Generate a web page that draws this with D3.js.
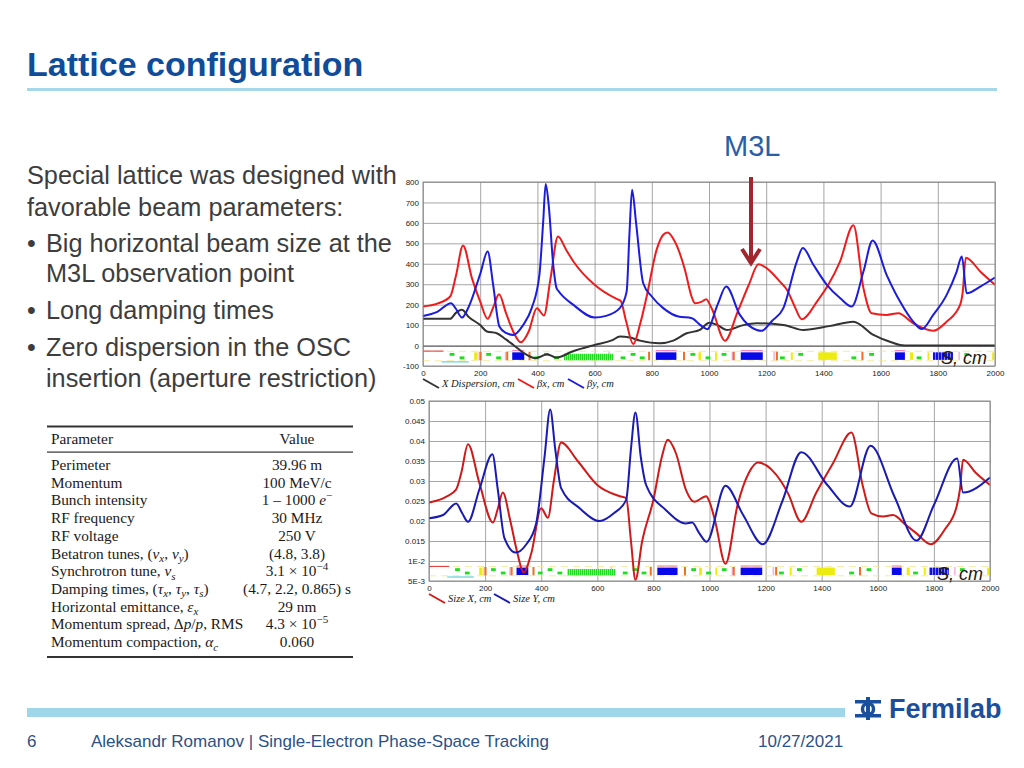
<!DOCTYPE html>
<html>
<head>
<meta charset="utf-8">
<script src="https://cdn.jsdelivr.net/npm/d3@7"></script>
<style>
body { margin: 0; background: #fff; }
svg { display: block; font-family: "Liberation Sans", Arial, sans-serif; }
</style>
</head>
<body>
<svg id="slide" width="1024" height="768"></svg>
<script>
// ---- text content ----
var titleText = "Lattice configuration";
var markLabel = "M3L";
var bodyLines = [
    "Special lattice was designed with",
    "favorable beam parameters:",
    "Big horizontal beam size at the",
    "M3L observation point",
    "Long damping times",
    "Zero dispersion in the OSC",
    "insertion (aperture restriction)"
];
var bodyBullet = [false, false, true, false, true, true, false];
var footerPage = "6";
var footerTitle = "Aleksandr Romanov | Single-Electron Phase-Space Tracking";
var footerDate = "10/27/2021";

// table rows: [text, style] segments
var tableHead = ["Parameter", "Value"];
var paramNames = [
    [["Perimeter"]],
    [["Momentum"]],
    [["Bunch intensity"]],
    [["RF frequency"]],
    [["RF voltage"]],
    [["Betatron tunes, ("], ["\u03bd", "i"], ["x", "sub"], [", "], ["\u03bd", "i"], ["y", "sub"], [")"]],
    [["Synchrotron tune, "], ["\u03bd", "i"], ["s", "sub"]],
    [["Damping times, ("], ["\u03c4", "i"], ["x", "sub"], [", "], ["\u03c4", "i"], ["y", "sub"], [", "], ["\u03c4", "i"], ["s", "sub"], [")"]],
    [["Horizontal emittance, "], ["\u03b5", "i"], ["x", "sub"]],
    [["Momentum spread, \u0394"], ["p", "i"], ["/"], ["p", "i"], [", RMS"]],
    [["Momentum compaction, "], ["\u03b1", "i"], ["c", "sub"]]
];
var paramValues = [
    [["39.96 m"]],
    [["100 MeV/c"]],
    [["1 \u2013 1000 "], ["e", "i"], ["\u2212", "sup"]],
    [["30 MHz"]],
    [["250 V"]],
    [["(4.8, 3.8)"]],
    [["3.1 \u00d7 10"], ["\u22124", "sup"]],
    [["(4.7, 2.2, 0.865) s"]],
    [["29 nm"]],
    [["4.3 \u00d7 10"], ["\u22125", "sup"]],
    [["0.060"]]
];

// ---- chart data (s in cm) ----
var sTicks = [0, 200, 400, 600, 800, 1000, 1200, 1400, 1600, 1800, 2000];
var betaTicks = [-100, 0, 100, 200, 300, 400, 500, 600, 700, 800];
var sizeTicks = [0.005, 0.01, 0.015, 0.02, 0.025, 0.03, 0.035, 0.04, 0.045, 0.05];
var sizeTickLabels = ["5E-3", "1E-2", "0.015", "0.02", "0.025", "0.03", "0.035", "0.04", "0.045", "0.05"];

var betaXS = [0, 50, 95, 115, 140, 171, 200, 226, 245, 266, 290, 315, 342, 370, 398, 423, 445, 472, 500, 526,
    600, 677, 691, 710, 735, 760, 782, 817, 840, 855, 880, 916, 939, 951, 975, 990, 1010, 1056, 1100, 1140,
    1173, 1200, 1248, 1273, 1300, 1324, 1380, 1417, 1458, 1505, 1540, 1569, 1621, 1662, 1714, 1784, 1831, 1878, 1887, 1898,
    1950, 2000];
var betaXV = [191, 205, 240, 340, 490, 330, 215, 131, 185, 251, 160, 70, 16, 70, 183, 147, 320, 534, 470, 411,
    297, 228, 219, 120, 7, 110, 240, 469, 542, 553, 510, 370, 240, 207, 215, 227, 180, 24, 165, 300,
    398, 380, 313, 272, 190, 129, 220, 297, 411, 588, 281, 158, 150, 158, 109, 72, 117, 199, 260, 430,
    360, 297];

var betaYS = [0, 50, 98, 115, 136, 160, 200, 226, 245, 267, 290, 316, 350, 380, 407, 420, 429, 440, 455, 467,
    473, 526, 600, 640, 688, 712, 722, 731, 745, 770, 800, 840, 893, 940, 970, 994, 1030, 1060, 1108, 1167,
    1184, 1220, 1260, 1307, 1328, 1365, 1412, 1460, 1499, 1540, 1572, 1621, 1668, 1714, 1744, 1784, 1831, 1866, 1884, 1901,
    1950, 2000];
var betaYV = [145, 165, 207, 180, 137, 190, 350, 460, 300, 93, 62, 52, 100, 183, 346, 600, 790, 680, 400, 281,
    268, 199, 137, 145, 183, 264, 550, 762, 600, 305, 240, 183, 142, 134, 100, 80, 200, 289, 150, 76,
    72, 120, 183, 411, 477, 395, 297, 230, 191, 362, 514, 346, 215, 117, 81, 150, 248, 362, 436, 256,
    290, 333];

var dispS = [0, 95, 115, 136, 160, 200, 223, 258, 290, 316, 363, 392, 410, 433, 467, 520, 600, 660, 689, 723,
    759, 828, 875, 922, 968, 1001, 1030, 1062, 1120, 1167, 1260, 1330, 1420, 1505, 1575, 1640, 1668, 1700, 2000];
var dispV = [131, 131, 160, 175, 140, 100, 69, 60, 30, 3, -46, -62, -55, -42, -59, -30, 3, 25, 44, 39,
    24, 11, 24, 60, 77, 112, 100, 76, 100, 109, 101, 76, 95, 117, 52, 15, 3, 0, 0];

var sizeXS = [0, 62, 97, 115, 139, 180, 228, 245, 263, 290, 315, 337, 365, 400, 424, 445, 471, 530, 600, 680,
    703, 720, 736, 760, 800, 830, 851, 880, 916, 946, 988, 1000, 1020, 1057, 1100, 1140, 1173, 1256, 1280, 1327,
    1380, 1440, 1506, 1547, 1577, 1619, 1654, 1700, 1738, 1789, 1840, 1881, 1893, 1904, 1950, 2000];
var sizeXV = [0.0246, 0.0261, 0.0279, 0.032, 0.0392, 0.0294, 0.0196, 0.023, 0.0271, 0.02, 0.012, 0.0071, 0.012, 0.0232, 0.0208, 0.03, 0.0396, 0.035, 0.029, 0.0262,
    0.0257, 0.015, 0.0053, 0.015, 0.0253, 0.036, 0.0403, 0.037, 0.0278, 0.0248, 0.0262, 0.0248, 0.02, 0.0093, 0.024, 0.032, 0.0346, 0.0298, 0.0269, 0.0198,
    0.027, 0.0344, 0.0421, 0.0286, 0.0219, 0.0211, 0.0215, 0.019, 0.0169, 0.0142, 0.018, 0.0236, 0.028, 0.0353, 0.032, 0.029];

var sizeYS = [0, 50, 97, 118, 139, 180, 226, 245, 269, 309, 345, 382, 412, 432, 450, 471, 537, 608, 660, 703,
    720, 736, 755, 774, 845, 916, 938, 964, 990, 1057, 1120, 1190, 1260, 1327, 1420, 1500, 1574, 1660, 1738, 1800,
    1883, 1904, 2000];
var sizeYV = [0.0207, 0.0215, 0.0244, 0.022, 0.0198, 0.028, 0.0367, 0.028, 0.0157, 0.0121, 0.014, 0.0194, 0.0361, 0.0479, 0.038, 0.0282, 0.0232, 0.02, 0.022, 0.0253,
    0.038, 0.0471, 0.036, 0.029, 0.0227, 0.0194, 0.0196, 0.0169, 0.0148, 0.0288, 0.0215, 0.0142, 0.025, 0.0372, 0.029, 0.0236, 0.0388, 0.026, 0.0151, 0.024,
    0.0356, 0.0271, 0.0309];

// lattice elements (s in cm)
var quadUp = [93, 221, 423, 726, 935, 1044, 1312, 1560, 1893];
var quadDown = [128, 256, 388, 458, 691, 758, 988, 1248, 1498, 1726];
var dipoles = [[312, 354], [814, 886], [1111, 1188], [1650, 1685]];
var combDipoles = [[1783, 1853]];
var sextupoles = [[179, 191], [963, 973], [1021, 1027], [1286, 1292], [1382, 1447], [1703, 1714], [1764, 1770], [1990, 1997]];
var correctors = [198, 291, 369, 787, 909, 1083, 1234, 1533];
var markers = [194, 286, 648, 1079, 1225, 1872];
var undulator = [[493, 665]];
var entryLine = [[0, 72]];
var cyanLine = [[65, 160]];

function show() {
    'use strict';

    var svg = d3.select("#slide");
    var blueText = "#0f4c9a";

    // ---- header ----
    svg.append("text").attr("x", 27).attr("y", 76)
        .attr("font-size", 34).attr("font-weight", "bold").attr("fill", blueText)
        .text(titleText);
    svg.append("rect").attr("x", 27).attr("y", 88).attr("width", 970).attr("height", 3)
        .attr("fill", "#a7d8e9");

    // ---- left text ----
    var baselines = [184, 216, 252, 282, 319, 356, 387];
    bodyLines.forEach(function (t, i) {
        var indent = (i === 0 || i === 1) ? 27 : 46;
        if (bodyBullet[i]) {
            svg.append("text").attr("x", 27).attr("y", baselines[i])
                .attr("font-size", 25).attr("fill", "#3d3d3d").text("\u2022");
        }
        svg.append("text").attr("x", indent).attr("y", baselines[i])
            .attr("font-size", 25.3).attr("fill", "#3d3d3d").text(t);
    });

    // ---- table ----
    var tbl = svg.append("g").attr("font-family", "'Liberation Serif', 'Times New Roman', serif")
        .attr("font-size", 15.3).attr("fill", "#1a1a1a");
    tbl.append("rect").attr("x", 47).attr("y", 425.5).attr("width", 306).attr("height", 2).attr("fill", "#333");
    tbl.append("rect").attr("x", 47).attr("y", 451.5).attr("width", 306).attr("height", 1.2).attr("fill", "#333");
    tbl.append("rect").attr("x", 47).attr("y", 656).attr("width", 306).attr("height", 2).attr("fill", "#333");
    tbl.append("text").attr("x", 51).attr("y", 444).text(tableHead[0]);
    tbl.append("text").attr("x", 297).attr("y", 444).attr("text-anchor", "middle").text(tableHead[1]);

    function richText(sel, segs) {
        var shift = 0;
        segs.forEach(function (seg) {
            var style = seg[1] || "";
            var ts = sel.append("tspan").text(seg[0]);
            var target = 0;
            if (style === "sub") { target = 3.5; ts.attr("font-size", 11).attr("font-style", "italic"); }
            if (style === "sup") { target = -6; ts.attr("font-size", 11); }
            if (style === "i") { ts.attr("font-style", "italic"); }
            if (target !== shift) { ts.attr("dy", target - shift); shift = target; }
        });
    }
    var rowY = d3.scaleLinear().domain([0, 10]).range([470, 647]);
    paramNames.forEach(function (segs, i) {
        richText(tbl.append("text").attr("x", 51).attr("y", rowY(i)), segs);
    });
    paramValues.forEach(function (segs, i) {
        richText(tbl.append("text").attr("x", 297).attr("y", rowY(i)).attr("text-anchor", "middle"), segs);
    });

    // ---- charts ----
    function drawChart(cfg) {
        var g = svg.append("g");
        var x = cfg.x, y = cfg.y;
        var x0 = x.range()[0], x1 = x.range()[1];
        var yb = y.range()[0], yt = y.range()[1];

        g.append("rect").attr("x", x0).attr("y", yt).attr("width", x1 - x0).attr("height", yb - yt)
            .attr("fill", "#fff");

        // grid
        g.append("g").attr("transform", "translate(0," + yb + ")")
            .call(d3.axisBottom(x).tickValues(sTicks).tickSize(-(yb - yt)).tickFormat(""))
            .call(function (a) { a.select(".domain").remove(); })
            .selectAll("line").attr("stroke", "#8f8f8f").attr("stroke-width", 0.8);
        g.append("g").attr("transform", "translate(" + x0 + ",0)")
            .call(d3.axisLeft(y).tickValues(cfg.yTicks).tickSize(-(x1 - x0)).tickFormat(""))
            .call(function (a) { a.select(".domain").remove(); })
            .selectAll("line").attr("stroke", function (d) { return d === cfg.zero ? "#555" : "#8f8f8f"; })
            .attr("stroke-width", function (d) { return d === cfg.zero ? 1.2 : 0.8; });

        drawStrip(g, x, cfg.strip[0], cfg.strip[1]);

        // curves
        var line = d3.line().curve(d3.curveMonotoneX)
            .x(function (d) { return x(d[0]); })
            .y(function (d) { return y(d[1]); });
        cfg.series.forEach(function (s) {
            g.append("path").datum(d3.zip(s.s, s.v))
                .attr("d", line).attr("fill", "none")
                .attr("stroke", s.color).attr("stroke-width", 2).attr("stroke-linejoin", "round");
        });

        g.append("rect").attr("x", x0).attr("y", yt).attr("width", x1 - x0).attr("height", yb - yt)
            .attr("fill", "none").attr("stroke", "#8a8a8a").attr("stroke-width", 1);

        // tick labels
        var yl = g.append("g").attr("transform", "translate(" + (x0 - 2) + ",0)")
            .call(d3.axisLeft(y).tickValues(cfg.yTicks).tickSize(0).tickPadding(2)
                .tickFormat(function (d, i) { return cfg.yLabels ? cfg.yLabels[i] : String(d); }));
        yl.select(".domain").remove();
        yl.selectAll("text").attr("font-size", 8).attr("fill", "#222")
            .attr("font-family", "'Liberation Sans', Arial, sans-serif");
        var xl = g.append("g").attr("transform", "translate(0," + (yb + 2) + ")")
            .call(d3.axisBottom(x).tickValues(sTicks).tickSize(0).tickPadding(2)
                .tickFormat(function (d) { return String(d); }));
        xl.select(".domain").remove();
        xl.selectAll("text").attr("font-size", 8).attr("fill", "#222")
            .attr("font-family", "'Liberation Sans', Arial, sans-serif");

        // axis name
        g.append("text").attr("x", cfg.sLabel[0]).attr("y", cfg.sLabel[1])
            .attr("font-size", 18).attr("font-style", "italic").attr("fill", "#1a1a1a")
            .text("S, cm");

        // legend
        var lx = cfg.legendX;
        cfg.series.forEach(function (s, i) {
            var px = lx[i];
            g.append("line").attr("x1", px).attr("y1", cfg.legendY - 6)
                .attr("x2", px + 16).attr("y2", cfg.legendY + 3)
                .attr("stroke", s.color).attr("stroke-width", 2);
            g.append("text").attr("x", px + 19).attr("y", cfg.legendY + 2)
                .attr("font-family", "'Liberation Serif', 'Times New Roman', serif")
                .attr("font-style", "italic").attr("font-size", 10.5).attr("fill", "#1a1a1a")
                .text(s.name);
        });
    }

    function drawStrip(g, x, top, bottom) {
        var f = function (t) { return top + t * (bottom - top); };
        var strip = g.append("g");
        // dashed outlines
        [0.28, 0.74].forEach(function (t) {
            strip.append("line").attr("x1", x(0)).attr("x2", x(2000)).attr("y1", f(t)).attr("y2", f(t))
                .attr("stroke", "#f2e58a").attr("stroke-width", 0.8).attr("stroke-dasharray", "7,5");
        });
        strip.selectAll(".entry").data(entryLine).enter().append("line")
            .attr("x1", function (d) { return x(d[0]); }).attr("x2", function (d) { return x(d[1]); })
            .attr("y1", f(0.27)).attr("y2", f(0.27)).attr("stroke", "#e03030").attr("stroke-width", 1);
        strip.selectAll(".cyan").data(cyanLine).enter().append("line")
            .attr("x1", function (d) { return x(d[0]); }).attr("x2", function (d) { return x(d[1]); })
            .attr("y1", f(0.8)).attr("y2", f(0.8)).attr("stroke", "#40c8d8").attr("stroke-width", 1);
        strip.selectAll(".dipline").data(dipoles).enter().append("line")
            .attr("x1", function (d) { return x(d[0]); }).attr("x2", function (d) { return x(d[1]); })
            .attr("y1", f(0.25)).attr("y2", f(0.25)).attr("stroke", "#f070a0").attr("stroke-width", 1);

        strip.selectAll(".marker").data(markers).enter().append("rect")
            .attr("x", function (d) { return x(d); }).attr("width", 1.5)
            .attr("y", f(0.3)).attr("height", f(0.72) - f(0.3)).attr("fill", "#f7b0e0");
        strip.selectAll(".und").data(undulator).enter().append("rect")
            .attr("x", function (d) { return x(d[0]); })
            .attr("width", function (d) { return x(d[1]) - x(d[0]); })
            .attr("y", f(0.4)).attr("height", f(0.72) - f(0.4)).attr("fill", "url(#undPattern)");
        strip.selectAll(".comb").data(combDipoles).enter().append("rect")
            .attr("x", function (d) { return x(d[0]); })
            .attr("width", function (d) { return x(d[1]) - x(d[0]); })
            .attr("y", f(0.33)).attr("height", f(0.7) - f(0.33)).attr("fill", "url(#combPattern)");
        strip.selectAll(".dip").data(dipoles).enter().append("rect")
            .attr("x", function (d) { return x(d[0]); })
            .attr("width", function (d) { return x(d[1]) - x(d[0]); })
            .attr("y", f(0.33)).attr("height", f(0.7) - f(0.33)).attr("fill", "#0808e8");
        strip.selectAll(".sext").data(sextupoles).enter().append("rect")
            .attr("x", function (d) { return x(d[0]); })
            .attr("width", function (d) { return Math.max(2, x(d[1]) - x(d[0])); })
            .attr("y", f(0.33)).attr("height", f(0.7) - f(0.33)).attr("fill", "#ecec10");
        strip.selectAll(".corr").data(correctors).enter().append("rect")
            .attr("x", function (d) { return x(d); }).attr("width", 2)
            .attr("y", f(0.3)).attr("height", f(0.72) - f(0.3)).attr("fill", "#f07020");
        strip.selectAll(".qu").data(quadUp).enter().append("rect")
            .attr("x", function (d) { return x(d); }).attr("width", function (d) { return x(d + 17) - x(d); })
            .attr("y", f(0.36)).attr("height", f(0.5) - f(0.36)).attr("fill", "#20dd20");
        strip.selectAll(".qd").data(quadDown).enter().append("rect")
            .attr("x", function (d) { return x(d); }).attr("width", function (d) { return x(d + 17) - x(d); })
            .attr("y", f(0.53)).attr("height", f(0.67) - f(0.53)).attr("fill", "#20dd20");
    }

    // patterns
    var defs = svg.append("defs");
    var p1 = defs.append("pattern").attr("id", "undPattern").attr("patternUnits", "userSpaceOnUse")
        .attr("width", 2).attr("height", 10);
    p1.append("rect").attr("width", 2).attr("height", 10).attr("fill", "#a8f0a0");
    p1.append("rect").attr("width", 1.2).attr("height", 10).attr("fill", "#22dd22");
    var p2 = defs.append("pattern").attr("id", "combPattern").attr("patternUnits", "userSpaceOnUse")
        .attr("width", 3).attr("height", 10);
    p2.append("rect").attr("width", 3).attr("height", 10).attr("fill", "#8080f0");
    p2.append("rect").attr("width", 2).attr("height", 10).attr("fill", "#1010e0");

    drawChart({
        x: d3.scaleLinear().domain([0, 2000]).range([423, 995]),
        y: d3.scaleLinear().domain([-100, 800]).range([366, 182]),
        yTicks: betaTicks,
        zero: 0,
        strip: [345.6, 366],
        sLabel: [941, 364],
        legendY: 385,
        legendX: [423, 518, 568],
        series: [
            { name: "X Dispersion, cm", s: dispS, v: dispV, color: "#333333" },
            { name: "\u03b2x, cm", s: betaXS, v: betaXV, color: "#ee1c1c" },
            { name: "\u03b2y, cm", s: betaYS, v: betaYV, color: "#1c1cdc" }
        ]
    });

    drawChart({
        x: d3.scaleLinear().domain([0, 2000]).range([429, 990]),
        y: d3.scaleLinear().domain([0.005, 0.05]).range([581, 401]),
        yTicks: sizeTicks,
        yLabels: sizeTickLabels,
        zero: null,
        strip: [561, 581],
        sLabel: [937, 580],
        legendY: 600,
        legendX: [429, 494],
        series: [
            { name: "Size X, cm", s: sizeXS, v: sizeXV, color: "#d01a1a" },
            { name: "Size Y, cm", s: sizeYS, v: sizeYV, color: "#1a1ab4" }
        ]
    });

    // ---- M3L marker ----
    svg.append("text").attr("x", 724).attr("y", 156).attr("font-size", 29)
        .attr("fill", "#2a5ea6").text(markLabel);
    var arrowCol = "#a3262e";
    svg.append("line").attr("x1", 751).attr("y1", 177).attr("x2", 751).attr("y2", 262)
        .attr("stroke", arrowCol).attr("stroke-width", 4);
    svg.append("path").attr("d", "M742,249 L751,263 L760,249").attr("fill", "none")
        .attr("stroke", arrowCol).attr("stroke-width", 4).attr("stroke-linejoin", "miter");

    // ---- footer ----
    svg.append("rect").attr("x", 27).attr("y", 708).attr("width", 818).attr("height", 9)
        .attr("fill", "#a0d6e9");
    var foot = svg.append("g").attr("font-size", 17).attr("fill", "#2b5189");
    foot.append("text").attr("x", 27).attr("y", 747).text(footerPage);
    foot.append("text").attr("x", 91).attr("y", 747).text(footerTitle);
    foot.append("text").attr("x", 758).attr("y", 747).text(footerDate);

    // logo
    var logoCol = "#1b4f9e";
    var logo = svg.append("g").attr("fill", logoCol);
    logo.append("rect").attr("x", 855).attr("y", 700).attr("width", 26).attr("height", 3.5);
    logo.append("rect").attr("x", 855).attr("y", 714).attr("width", 26).attr("height", 3.5);
    logo.append("rect").attr("x", 866).attr("y", 697).attr("width", 4).attr("height", 23);
    logo.append("circle").attr("cx", 868).attr("cy", 709).attr("r", 5.5)
        .attr("fill", "none").attr("stroke", logoCol).attr("stroke-width", 3.5);
    logo.append("text").attr("x", 889).attr("y", 718).attr("font-size", 27).attr("font-weight", "bold")
        .text("Fermilab");
}

show();
</script>
</body>
</html>
